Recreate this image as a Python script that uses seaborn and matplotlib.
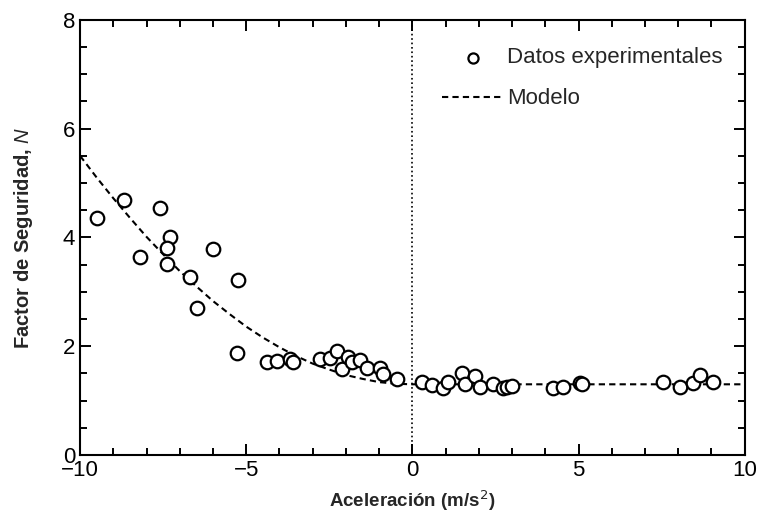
import numpy as np
import pandas as pd
import matplotlib.pyplot as plt
import seaborn as sns
from matplotlib.ticker import MultipleLocator

# data
acc_exp = [-9.49, -8.68, -8.20, -7.59, -7.29, -7.38, -7.38, -6.69, -6.00, -6.48,
           -5.25, -5.28, -4.38, -4.08, -3.68, -3.59, -2.78, -2.48, -2.27, -2.12,
           -1.94, -1.82, -1.58, -1.37, -0.98, -0.89, -0.47,
           0.29, 0.59, 0.92, 1.07, 1.49, 1.58, 1.88, 2.03, 2.42, 2.72, 2.84, 2.99,
           4.23, 4.53, 5.04, 5.10,
           7.53, 8.05, 8.44, 8.65, 9.04]
n_exp = [4.36, 4.69, 3.64, 4.54, 4.01, 3.81, 3.51, 3.27, 3.79, 2.70,
         3.22, 1.88, 1.71, 1.73, 1.76, 1.71, 1.76, 1.78, 1.91, 1.58,
         1.80, 1.71, 1.75, 1.60, 1.60, 1.49, 1.40,
         1.34, 1.29, 1.23, 1.34, 1.51, 1.31, 1.45, 1.25, 1.31, 1.23, 1.25, 1.27,
         1.23, 1.25, 1.32, 1.31,
         1.34, 1.25, 1.32, 1.47, 1.34]

acc_model = [-10, -9.5, -9, -8.5, -8, -7.5, -7, -6.5, -6, -5.5, -5, -4.5, -4,
             -3.5, -3, -2.5, -2, -1.5, -1, -0.5, 0, 10]
n_model = [5.50, 5.10, 4.72, 4.36, 4.01, 3.69, 3.38, 3.10, 2.83, 2.59, 2.36,
           2.16, 1.98, 1.82, 1.68, 1.57, 1.47, 1.40, 1.34, 1.31, 1.30, 1.30]

sns.set_theme(style="ticks")
plt.rcParams['font.family'] = ['Liberation Sans', 'DejaVu Sans']
plt.rcParams['mathtext.fontset'] = 'custom'
plt.rcParams['mathtext.it'] = 'Liberation Sans:italic'

fig = plt.figure(figsize=(7.63, 5.23), dpi=100)
ax = fig.add_axes([0.105, 0.13, 0.871, 0.832])

ax.axvline(0, color='black', linestyle=':', linewidth=1.2, zorder=1)

sns.lineplot(x=acc_model, y=n_model, ax=ax, color='black', linewidth=1.5,
             linestyle=(0, (3, 2)), label='Modelo', zorder=2)
sns.scatterplot(x=acc_exp, y=n_exp, ax=ax, marker='o', s=95,
                facecolor='white', edgecolor='black', linewidth=1.6,
                label='Datos experimentales', zorder=3)

ax.set_xlim(-10, 10)
ax.set_ylim(0, 8)
ax.xaxis.set_major_locator(MultipleLocator(5))
ax.xaxis.set_minor_locator(MultipleLocator(1))
ax.yaxis.set_major_locator(MultipleLocator(2))
ax.yaxis.set_minor_locator(MultipleLocator(0.5))
ax.tick_params(which='both', direction='in', top=True, right=True,
               width=1.4, colors='black', labelsize=16)
ax.tick_params(which='major', length=8)
ax.tick_params(which='minor', length=5)
for sp in ax.spines.values():
    sp.set_linewidth(1.5)
    sp.set_color('black')

ax.set_xlabel(r'Aceleración (m/s$^2$)', fontsize=13.5, fontweight='bold', labelpad=5)
ax.set_ylabel(r'Factor de Seguridad, $\mathit{N}$', fontsize=14.5, fontweight='bold', labelpad=20)

handles, labels = ax.get_legend_handles_labels()
order = [labels.index('Datos experimentales'), labels.index('Modelo')]
ax.legend([handles[i] for i in order], [labels[i] for i in order],
          loc='upper right', bbox_to_anchor=(0.977, 0.952), frameon=False,
          fontsize=16, markerscale=0.75, handlelength=2.8, handletextpad=0.15,
          borderaxespad=0, labelspacing=0.9, borderpad=0.3)

fig.savefig('out.png', dpi=100)
